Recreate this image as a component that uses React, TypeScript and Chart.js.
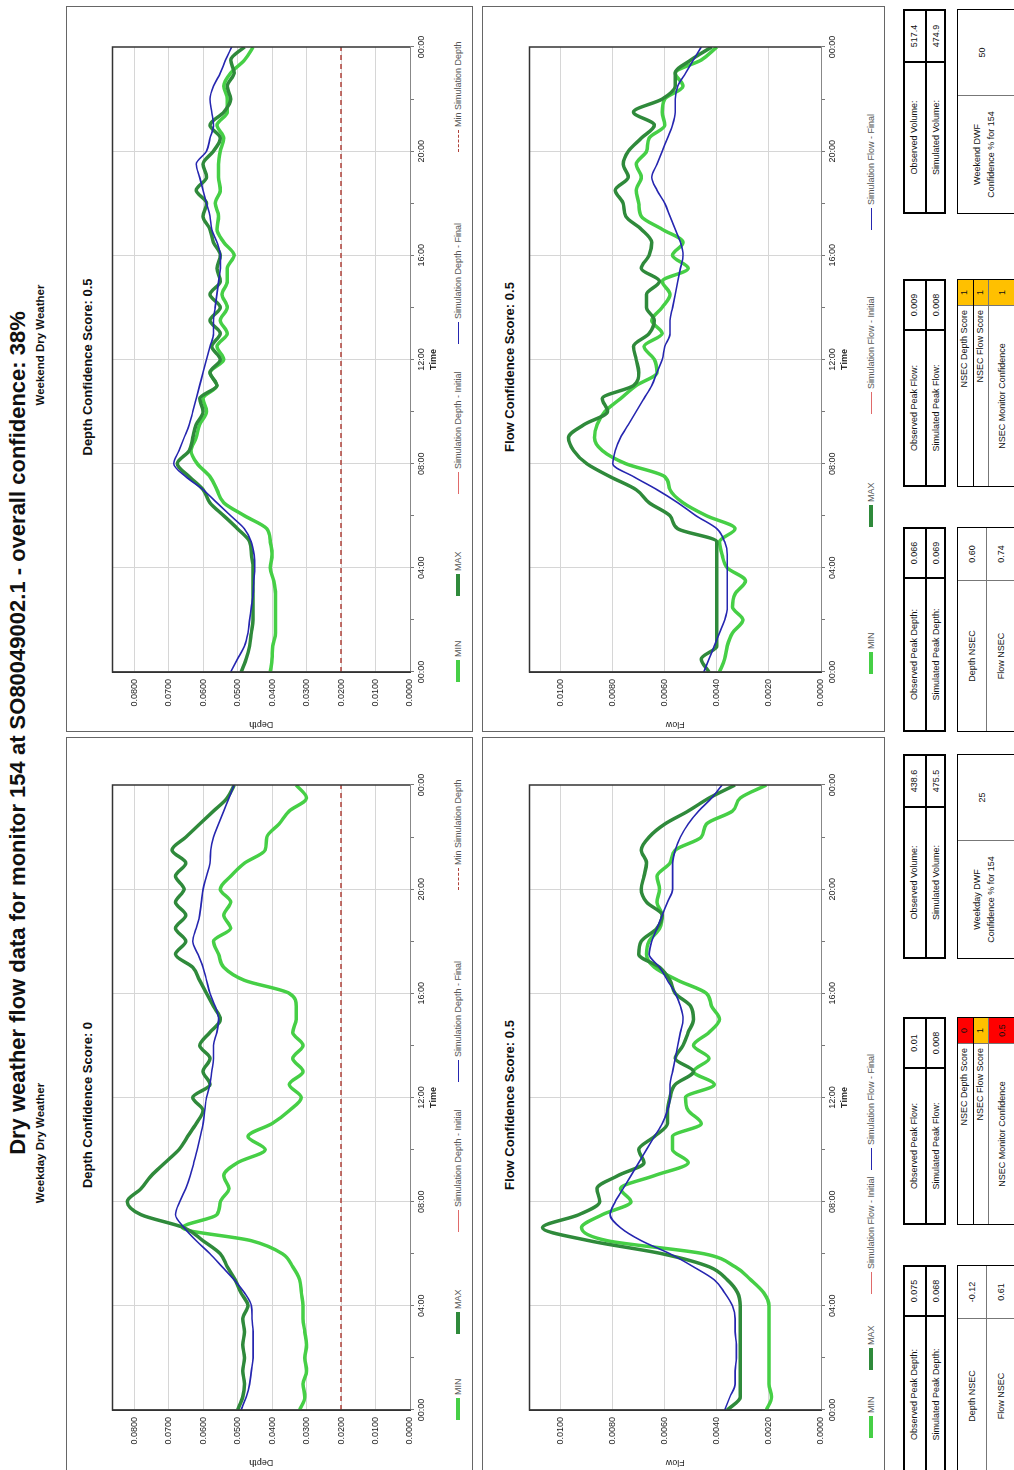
import React, { useEffect, useRef } from "react";
import { Chart, registerables } from "chart.js";

Chart.register(...registerables);

// ---------------- DATA ----------------
const TIMES = [0, 0.5, 1, 1.5, 2, 2.5, 3, 3.5, 4, 4.5, 5, 5.5, 6, 6.5, 7, 7.5, 8, 8.5, 9, 9.5, 10, 10.5, 11, 11.5, 12, 12.5, 13, 13.5, 14, 14.5, 15, 15.5, 16, 16.5, 17, 17.5, 18, 18.5, 19, 19.5, 20, 20.5, 21, 21.5, 22, 22.5, 23, 23.5, 24];

const WD_DEPTH_MIN = [
  0.032, 0.0305, 0.031, 0.030, 0.0305, 0.030, 0.0305, 0.031,
  0.031, 0.0315, 0.032, 0.034, 0.037, 0.046, 0.066, 0.056,
  0.055, 0.0525, 0.054, 0.050, 0.042, 0.047, 0.040, 0.035,
  0.0315, 0.035, 0.031, 0.034, 0.031, 0.034, 0.033, 0.033,
  0.035, 0.048, 0.054, 0.0555, 0.057, 0.052, 0.054, 0.052,
  0.055, 0.052, 0.048, 0.042, 0.0415, 0.038, 0.035, 0.030,
  0.033,
];
const WD_DEPTH_MAX = [
  0.050, 0.0485, 0.048, 0.0485, 0.048, 0.0485, 0.048, 0.0485,
  0.047, 0.049, 0.0507, 0.053, 0.055, 0.060, 0.0655, 0.078,
  0.082, 0.078, 0.075, 0.071, 0.067, 0.0645, 0.062, 0.060,
  0.063, 0.058, 0.060, 0.058, 0.061, 0.058, 0.055, 0.057,
  0.059, 0.061, 0.063, 0.068, 0.065, 0.068, 0.065, 0.068,
  0.0655, 0.068, 0.065, 0.069, 0.065, 0.061, 0.057, 0.053,
  0.051,
];
const WD_DEPTH_SIM = [
  0.049, 0.0475, 0.0465, 0.046, 0.0455, 0.0455, 0.0455, 0.0458,
  0.046, 0.048, 0.051, 0.0545, 0.058, 0.062, 0.0655, 0.068,
  0.0668, 0.065, 0.0637, 0.0627, 0.0617, 0.0608, 0.060, 0.0595,
  0.059, 0.058, 0.0575, 0.057, 0.057, 0.056, 0.0555, 0.0565,
  0.058, 0.059, 0.060, 0.0615, 0.063, 0.062, 0.061, 0.0605,
  0.060, 0.059, 0.058, 0.0578, 0.057, 0.0555, 0.054, 0.0525,
  0.051,
];
const WE_DEPTH_MIN = [
  0.0405, 0.040, 0.0398, 0.039, 0.039, 0.039, 0.039, 0.0395,
  0.0405, 0.040, 0.0405, 0.0415, 0.048, 0.054, 0.056, 0.058,
  0.0617, 0.0635, 0.062, 0.061, 0.059, 0.060, 0.056, 0.058,
  0.054, 0.056, 0.053, 0.055, 0.053, 0.0545, 0.053, 0.053,
  0.051, 0.054, 0.056, 0.0555, 0.0565, 0.055, 0.0555, 0.0555,
  0.055, 0.054, 0.056, 0.053, 0.053, 0.054, 0.052, 0.048,
  0.0455,
];
const WE_DEPTH_MAX = [
  0.049, 0.0475, 0.0465, 0.046, 0.0455, 0.0455, 0.0455, 0.0455,
  0.0455, 0.046, 0.0465, 0.050, 0.054, 0.058, 0.060, 0.064,
  0.0675, 0.064, 0.063, 0.062, 0.060, 0.061, 0.056, 0.058,
  0.055, 0.0575, 0.055, 0.058, 0.055, 0.058, 0.055, 0.056,
  0.055, 0.057, 0.058, 0.060, 0.059, 0.062, 0.059, 0.060,
  0.057, 0.055, 0.058, 0.054, 0.052, 0.053, 0.051, 0.052,
  0.048,
];
const WE_DEPTH_SIM = [
  0.052, 0.050, 0.048, 0.047, 0.0465, 0.046, 0.0455, 0.0453,
  0.045, 0.0452, 0.046, 0.048, 0.052, 0.056, 0.060, 0.065,
  0.0685, 0.067, 0.0655, 0.064, 0.063, 0.062, 0.061, 0.060,
  0.059, 0.058, 0.057, 0.057, 0.0565, 0.056, 0.0555, 0.055,
  0.055, 0.056, 0.0575, 0.058, 0.059, 0.060, 0.061, 0.062,
  0.059, 0.058, 0.057, 0.0575, 0.058, 0.057, 0.055, 0.0535,
  0.0517,
];
const WD_FLOW_MIN = [
  0.0021, 0.0019, 0.0020, 0.0020, 0.0020, 0.0020, 0.0020, 0.0020,
  0.0020, 0.0022, 0.0027, 0.0033, 0.0045, 0.0082, 0.0092, 0.0084,
  0.0073, 0.0077, 0.0064, 0.0051, 0.0057, 0.0057, 0.0046, 0.0051,
  0.0052, 0.0041, 0.0049, 0.0043, 0.0049, 0.0043, 0.0039, 0.0042,
  0.0044, 0.0055, 0.0064, 0.0067, 0.0066, 0.0062, 0.0061, 0.0063,
  0.0062, 0.0063, 0.0058, 0.0056, 0.0046, 0.0044, 0.0034, 0.0031,
  0.0021,
];
const WD_FLOW_MAX = [
  0.0036, 0.0031, 0.0031, 0.0031, 0.0031, 0.0031, 0.0031, 0.0031,
  0.0031, 0.0032, 0.0036, 0.0043, 0.0061, 0.0089, 0.0107, 0.0093,
  0.0085, 0.0086, 0.0078, 0.0068, 0.0070, 0.0064, 0.0059, 0.0059,
  0.0058, 0.0056, 0.0049, 0.0056, 0.0053, 0.0051, 0.0049, 0.0050,
  0.0056, 0.0058, 0.0062, 0.0070, 0.0069, 0.0063, 0.0061, 0.0067,
  0.0069, 0.0068, 0.0067, 0.0069, 0.0066, 0.0060, 0.0051, 0.0043,
  0.0033,
];
const WD_FLOW_SIM = [
  0.0037, 0.0035, 0.0033, 0.0033, 0.00325, 0.00325, 0.0033, 0.0033,
  0.0034, 0.0037, 0.0041, 0.0049, 0.0058, 0.0069, 0.0077, 0.0081,
  0.0079, 0.0076, 0.0073, 0.0070, 0.0067, 0.0064, 0.0061, 0.0059,
  0.0058, 0.0058, 0.0057, 0.0056, 0.0055, 0.0054, 0.0053, 0.0054,
  0.0056, 0.0059, 0.0062, 0.0066, 0.0065, 0.0063, 0.0061, 0.0059,
  0.0057, 0.0057, 0.0057, 0.0056, 0.0054, 0.0051, 0.0047, 0.0042,
  0.0038,
];
const WE_FLOW_MIN = [
  0.0039, 0.0037, 0.0036, 0.0034, 0.0030, 0.0034, 0.0033, 0.0029,
  0.0036, 0.0038, 0.0039, 0.0033, 0.0044, 0.0053, 0.0058, 0.0060,
  0.0075, 0.0084, 0.0087, 0.0086, 0.0083, 0.0077, 0.0071, 0.0063,
  0.0064, 0.0068, 0.0061, 0.0065, 0.0061, 0.0058, 0.0061, 0.0051,
  0.0057, 0.0053, 0.0061, 0.0069, 0.0070, 0.0071, 0.0069, 0.0071,
  0.0067, 0.0066, 0.0060, 0.0061, 0.0060, 0.0053, 0.0056, 0.0046,
  0.0040,
];
const WE_FLOW_MAX = [
  0.0043, 0.0046, 0.0040, 0.0040, 0.0040, 0.0040, 0.0040, 0.0040,
  0.0040, 0.0040, 0.0040, 0.0055, 0.0058, 0.0066, 0.0071, 0.0081,
  0.0090, 0.0095, 0.0097, 0.0091, 0.0082, 0.0084, 0.0072, 0.0070,
  0.0071, 0.0072, 0.0066, 0.0064, 0.0067, 0.0067, 0.0062, 0.0069,
  0.0066, 0.0065, 0.0069, 0.0075, 0.0076, 0.0079, 0.0074, 0.0076,
  0.0074, 0.0069, 0.0064, 0.0072, 0.0061, 0.0056, 0.0056, 0.0050,
  0.0042,
];
const WE_FLOW_SIM = [
  0.0045, 0.0043, 0.0041, 0.0039, 0.0037, 0.0036, 0.0036, 0.0036,
  0.0036, 0.0036, 0.0037, 0.0040, 0.0048, 0.0055, 0.0063, 0.0072,
  0.0080, 0.0079, 0.0077, 0.0074, 0.0071, 0.0068, 0.0065, 0.0063,
  0.0061, 0.0060, 0.0058, 0.0058, 0.0057, 0.0056, 0.0055, 0.0054,
  0.0053, 0.0054, 0.0056, 0.0058, 0.0060, 0.0063, 0.0065, 0.0063,
  0.0061, 0.0059, 0.0057, 0.0056, 0.0056, 0.0055, 0.0052, 0.0049,
  0.0046,
];
const MIN_SIM_DEPTH_X = [0, 24];
const MIN_SIM_DEPTH_Y = [0.02, 0.02];

const DEPTH_AXIS = { max: 0.0863, step: 0.01 };
const FLOW_AXIS = { max: 0.0112, step: 0.002 };

const TITLE = "Dry weather flow data for monitor 154 at SO80049002.1 - overall confidence: 38%";
const SECTION_TITLES = ["Weekday Dry Weather", "Weekend Dry Weather"];
const DEPTH_SCORES = ["Depth Confidence Score: 0", "Depth Confidence Score: 0.5"];
const FLOW_SCORES = ["Flow Confidence Score: 0.5", "Flow Confidence Score: 0.5"];

const PEAK_DEPTH_LABELS = ["Observed Peak Depth:", "Simulated Peak Depth:"];
const PEAK_FLOW_LABELS = ["Observed Peak Flow:", "Simulated Peak Flow:"];
const VOLUME_LABELS = ["Observed Volume:", "Simulated Volume:"];
const WD_PEAK_DEPTH = ["0.075", "0.068"];
const WE_PEAK_DEPTH = ["0.066", "0.069"];
const WD_PEAK_FLOW = ["0.01", "0.008"];
const WE_PEAK_FLOW = ["0.009", "0.008"];
const WD_VOLUME = ["438.6", "475.5"];
const WE_VOLUME = ["517.4", "474.9"];
const NSEC_LABELS = ["Depth NSEC", "Flow NSEC"];
const WD_NSEC = ["-0.12", "0.61"];
const WE_NSEC = ["0.60", "0.74"];
const SCORE_LABELS = ["NSEC Depth Score", "NSEC Flow Score", "NSEC Monitor Confidence"];
const WD_SCORES = ["0", "1", "0.5"];
const WE_SCORES = ["1", "1", "1"];
const DWF_LABELS = [["Weekday DWF", "Confidence % for 154"], ["Weekend DWF", "Confidence % for 154"]];
const DWF_VALUES = ["25", "50"];

// ---------------- STYLE ----------------
const FONT = "'Liberation Sans', Arial, Helvetica, sans-serif";
const NARROW = "'Liberation Sans Narrow', 'Liberation Sans', Arial, sans-serif";
const C_MIN = "#46cf46";
const C_MAX = "#2f8a3b";
const C_INIT = "#e06a6a";
const C_FINAL = "#2626b0";
const C_MINSIM = "#b0423a";

const scoreColor = (v: string) => (Number(v) >= 1 ? "#ffc000" : "#ff0000");

const framePlugin = {
  id: "frame",
  afterDatasetsDraw(chart: any) {
    const { ctx, chartArea: a } = chart;
    ctx.save();
    ctx.strokeStyle = "#333";
    ctx.lineWidth = 1.5;
    ctx.beginPath();
    ctx.moveTo(a.left, a.bottom);
    ctx.lineTo(a.left, a.top);
    ctx.lineTo(a.right, a.top);
    ctx.lineTo(a.right, a.bottom);
    ctx.stroke();
    ctx.restore();
  },
};

type Series = { label: string; x: number[]; y: number[]; color: string; width: number; dash?: number[]; order: number };

function LineChart(props: {
  left: number; top: number; width: number; height: number;
  series: Series[]; yMax: number; yStep: number; yTitle: string;
  padTop: number; padRight: number; xScaleH: number; yScaleW: number;
}) {
  const ref = useRef<HTMLCanvasElement>(null);
  useEffect(() => {
    const p = props;
    const tickFont = { family: NARROW, size: 9 };
    const chart = new Chart(ref.current as HTMLCanvasElement, {
      type: "line",
      data: {
        datasets: p.series.map((s) => ({
          label: s.label,
          data: s.x.map((t, i) => ({ x: t, y: s.y[i] })),
          borderColor: s.color,
          backgroundColor: s.color,
          borderWidth: s.width,
          borderDash: s.dash || [],
          pointRadius: 0,
          cubicInterpolationMode: "monotone",
          fill: false,
          order: s.order,
        })),
      },
      options: {
        animation: false,
        responsive: false,
        maintainAspectRatio: false,
        events: [],
        layout: { padding: { top: p.padTop, right: p.padRight, left: 0, bottom: 0 } },
        plugins: { legend: { display: false }, tooltip: { enabled: false }, title: { display: false } },
        scales: {
          x: {
            type: "linear",
            min: 0,
            max: 24,
            ticks: {
              stepSize: 2,
              autoSkip: false,
              maxRotation: 0,
              padding: 2,
              font: tickFont,
              color: "#222",
              callback: (v: any) => (Number(v) % 4 === 0 ? String(Number(v) % 24).padStart(2, "0") + ":00" : ""),
            },
            grid: {
              color: (ctx: any) => {
                const v = ctx.tick ? ctx.tick.value : -1;
                return v % 4 === 0 && v > 0 && v < 24 ? "#d6d6d6" : "rgba(0,0,0,0)";
              },
              tickColor: "#777",
              tickLength: 4,
              drawTicks: true,
            },
            border: { color: "#888", width: 1 },
            title: { display: true, text: "Time", font: { family: NARROW, size: 9, weight: "bold" }, color: "#222", padding: { top: 0, bottom: 2 } },
            afterFit: (s: any) => { s.height = p.xScaleH; },
          },
          y: {
            min: 0,
            max: p.yMax,
            ticks: {
              stepSize: p.yStep,
              includeBounds: false,
              padding: 7,
              font: tickFont,
              color: "#222",
              callback: (v: any) => Number(v).toFixed(4),
            },
            grid: {
              color: (ctx: any) => (ctx.tick && ctx.tick.value > 0 ? "#d6d6d6" : "rgba(0,0,0,0)"),
              drawTicks: false,
            },
            border: { color: "#333", width: 1.5 },
            title: { display: true, text: p.yTitle, font: { family: NARROW, size: 9 }, color: "#222", padding: { top: 2, bottom: 0 } },
            afterFit: (s: any) => { s.width = p.yScaleW; },
          },
        },
      } as any,
      plugins: [framePlugin],
    });
    return () => chart.destroy();
  }, []);
  return (
    <canvas
      ref={ref}
      width={props.width}
      height={props.height}
      style={{ position: "absolute", left: props.left, top: props.top, width: props.width, height: props.height }}
    />
  );
}

type LegendItem = { label: string; color: string; width: number; dashed?: boolean; at: number };

function Legend({ left, top, items }: { left: number; top: number; items: LegendItem[] }) {
  return (
    <>
      {items.map((it, i) => (
        <div key={i} style={{ position: "absolute", left: left + it.at, top, height: 12, display: "flex", alignItems: "center", whiteSpace: "nowrap" }}>
          <div style={{ width: 22, height: 0, borderTop: `${it.width}px ${it.dashed ? "dashed" : "solid"} ${it.color}` }} />
          <span style={{ marginLeft: 3, fontFamily: NARROW, fontSize: 9, color: "#555" }}>{it.label}</span>
        </div>
      ))}
    </>
  );
}

function KVTable({ left, top, width, valW, labels, values }: { left: number; top: number; width: number; valW: number; labels: string[]; values: string[] }) {
  const rowH = 21.5;
  return (
    <div style={{ position: "absolute", left, top, width, height: rowH * labels.length, border: "2px solid #000", boxSizing: "border-box", fontFamily: FONT, fontSize: 9, color: "#111" }}>
      {labels.map((l, i) => (
        <div key={i} style={{ position: "absolute", left: 0, right: 0, top: i * rowH - (i ? 2 : 0), height: rowH - 2, borderTop: i ? "2px solid #000" : "none", display: "flex" }}>
          <div style={{ flex: 1, borderRight: "2px solid #000", textAlign: "center", lineHeight: `${rowH - 3}px` }}>{l}</div>
          <div style={{ width: valW, textAlign: "center", lineHeight: `${rowH - 3}px` }}>{values[i]}</div>
        </div>
      ))}
    </div>
  );
}

function NsecTable({ left, top, width, valW, labels, values }: { left: number; top: number; width: number; valW: number; labels: string[]; values: string[] }) {
  const rowH = 28;
  return (
    <div style={{ position: "absolute", left, top, width, height: rowH * 2 + 8, border: "1.5px solid #000", boxSizing: "border-box", fontFamily: FONT, fontSize: 9, color: "#111" }}>
      {labels.map((l, i) => (
        <div key={i} style={{ position: "absolute", left: 0, right: 0, top: i * rowH, height: rowH, borderTop: i ? "1px solid #777" : "none", display: "flex" }}>
          <div style={{ flex: 1, borderRight: "1px solid #777", textAlign: "center", lineHeight: `${rowH}px` }}>{l}</div>
          <div style={{ width: valW, textAlign: "center", lineHeight: `${rowH}px` }}>{values[i]}</div>
        </div>
      ))}
    </div>
  );
}

function ScoreTable({ left, top, width, valW, labels, values }: { left: number; top: number; width: number; valW: number; labels: string[]; values: string[] }) {
  const rows = [15, 15, 34];
  let y = 0;
  return (
    <div style={{ position: "absolute", left, top, width, height: 64, border: "1.5px solid #000", boxSizing: "border-box", fontFamily: FONT, fontSize: 9, color: "#111" }}>
      {labels.map((l, i) => {
        const t = y;
        y += rows[i];
        return (
          <div key={i} style={{ position: "absolute", left: 0, right: 0, top: t, height: rows[i], borderTop: i ? (i === 2 ? "1px solid #777" : "1.5px solid #000") : "none", boxSizing: "border-box", display: "flex" }}>
            <div style={{ flex: 1, borderRight: "1px solid #777", textAlign: i === 2 ? "center" : "right", paddingRight: i === 2 ? 0 : 4, lineHeight: i === 2 ? "26px" : `${rows[i] - 2}px` }}>{l}</div>
            <div style={{ width: valW, background: scoreColor(values[i]), textAlign: "center", lineHeight: i === 2 ? "26px" : `${rows[i] - 2}px` }}>{values[i]}</div>
          </div>
        );
      })}
    </div>
  );
}

function DwfTable({ left, top, width, valW, lines, value }: { left: number; top: number; width: number; valW: number; lines: string[]; value: string }) {
  return (
    <div style={{ position: "absolute", left, top, width, height: 64, border: "1.5px solid #000", boxSizing: "border-box", fontFamily: FONT, fontSize: 9, color: "#111", display: "flex" }}>
      <div style={{ flex: 1, borderRight: "1px solid #777", textAlign: "center", paddingTop: 12, lineHeight: "14px" }}>
        {lines.map((l, i) => (<div key={i}>{l}</div>))}
      </div>
      <div style={{ width: valW, textAlign: "center", paddingTop: 19 }}>{value}</div>
    </div>
  );
}

function Section({ idx, base }: { idx: number; base: number }) {
  const wd = idx === 0;
  const depthSeries: Series[] = [
    { label: "MIN", x: TIMES, y: wd ? WD_DEPTH_MIN : WE_DEPTH_MIN, color: C_MIN, width: 3.5, order: 4 },
    { label: "MAX", x: TIMES, y: wd ? WD_DEPTH_MAX : WE_DEPTH_MAX, color: C_MAX, width: 3.5, order: 3 },
    { label: "Simulation Depth - Initial", x: [], y: [], color: C_INIT, width: 1, order: 2 },
    { label: "Simulation Depth - Final", x: TIMES, y: wd ? WD_DEPTH_SIM : WE_DEPTH_SIM, color: C_FINAL, width: 1.6, order: 0 },
    { label: "Min Simulation Depth", x: MIN_SIM_DEPTH_X, y: MIN_SIM_DEPTH_Y, color: C_MINSIM, width: 1.5, dash: [5, 4], order: 1 },
  ];
  const flowSeries: Series[] = [
    { label: "MIN", x: TIMES, y: wd ? WD_FLOW_MIN : WE_FLOW_MIN, color: C_MIN, width: 3.5, order: 4 },
    { label: "MAX", x: TIMES, y: wd ? WD_FLOW_MAX : WE_FLOW_MAX, color: C_MAX, width: 3.5, order: 3 },
    { label: "Simulation Flow - Initial", x: [], y: [], color: C_INIT, width: 1, order: 2 },
    { label: "Simulation Flow - Final", x: TIMES, y: wd ? WD_FLOW_SIM : WE_FLOW_SIM, color: C_FINAL, width: 1.6, order: 0 },
  ];
  const depthLegendAt = [50, 136, 238, 388, 580];
  const flowLegendAt = wd ? [32, 100, 176, 300] : [58, 205, 318, 502];
  const panelLeft = wd ? -2 : base;
  const panelW = wd ? 735 : 726;
  const t3 = wd ? 511 : 518;
  return (
    <>
      <div style={{ position: "absolute", left: base + (wd ? 227 : 287), width: 200, top: 34, textAlign: "center", fontFamily: FONT, fontWeight: "bold", fontSize: 11.5, color: "#111" }}>{SECTION_TITLES[idx]}</div>

      <div style={{ position: "absolute", left: panelLeft, top: 66, width: panelW, height: 407, border: "1px solid #666", boxSizing: "border-box" }} />
      <div style={{ position: "absolute", left: base, width: 730, top: 80, textAlign: "center", fontFamily: FONT, fontWeight: "bold", fontSize: 13, lineHeight: "16px", color: "#111" }}>{DEPTH_SCORES[idx]}</div>
      <LineChart left={base} top={100} width={730} height={341} series={depthSeries} yMax={DEPTH_AXIS.max} yStep={DEPTH_AXIS.step} yTitle="Depth" padTop={9} padRight={45} xScaleH={31} yScaleW={60} />
      <Legend left={base} top={452} items={depthSeries.map((s, i) => ({ label: s.label, color: s.color, width: s.width >= 3 ? 4 : 1.5, dashed: !!s.dash, at: depthLegendAt[i] }))} />

      <div style={{ position: "absolute", left: panelLeft, top: 482, width: panelW, height: 403, border: "1px solid #666", boxSizing: "border-box" }} />
      <div style={{ position: "absolute", left: base, width: 730, top: 502, textAlign: "center", fontFamily: FONT, fontWeight: "bold", fontSize: 13, lineHeight: "16px", color: "#111" }}>{FLOW_SCORES[idx]}</div>
      <LineChart left={base} top={517} width={730} height={335} series={flowSeries} yMax={FLOW_AXIS.max} yStep={FLOW_AXIS.step} yTitle="Flow" padTop={9} padRight={45} xScaleH={31} yScaleW={60} />
      <Legend left={base} top={865} items={flowSeries.map((s, i) => ({ label: s.label, color: s.color, width: s.width >= 3 ? 4 : 1.5, at: flowLegendAt[i] }))} />

      <KVTable left={wd ? -4 : base} top={903} width={wd ? 209 : 205} valW={48} labels={PEAK_DEPTH_LABELS} values={wd ? WD_PEAK_DEPTH : WE_PEAK_DEPTH} />
      <KVTable left={base + 245} top={903} width={208} valW={48} labels={PEAK_FLOW_LABELS} values={wd ? WD_PEAK_FLOW : WE_PEAK_FLOW} />
      <KVTable left={base + t3} top={903} width={205} valW={50} labels={VOLUME_LABELS} values={wd ? WD_VOLUME : WE_VOLUME} />

      <NsecTable left={wd ? -4 : base} top={957} width={wd ? 209 : 205} valW={52} labels={NSEC_LABELS} values={wd ? WD_NSEC : WE_NSEC} />
      <ScoreTable left={base + 245} top={957} width={208} valW={25} labels={SCORE_LABELS} values={wd ? WD_SCORES : WE_SCORES} />
      <DwfTable left={base + t3} top={957} width={205} valW={85} lines={DWF_LABELS[idx]} value={DWF_VALUES[idx]} />
    </>
  );
}

export default function App() {
  useEffect(() => {
    document.body.style.margin = "0";
    document.body.style.background = "#fff";
  }, []);
  return (
    <div style={{ position: "absolute", left: 0, top: 0, width: 1014, height: 1470, overflow: "hidden", background: "#fff" }}>
      <div style={{ position: "absolute", left: 0, top: 1470, width: 1470, height: 1014, transform: "rotate(-90deg)", transformOrigin: "0 0", background: "#fff" }}>
        <div style={{ position: "absolute", left: 0, width: 1474, top: 5, textAlign: "center", fontFamily: FONT, fontWeight: "bold", fontSize: 22, lineHeight: "25px", color: "#111" }}>{TITLE}</div>
        <Section idx={0} base={0} />
        <Section idx={1} base={738} />
      </div>
    </div>
  );
}
